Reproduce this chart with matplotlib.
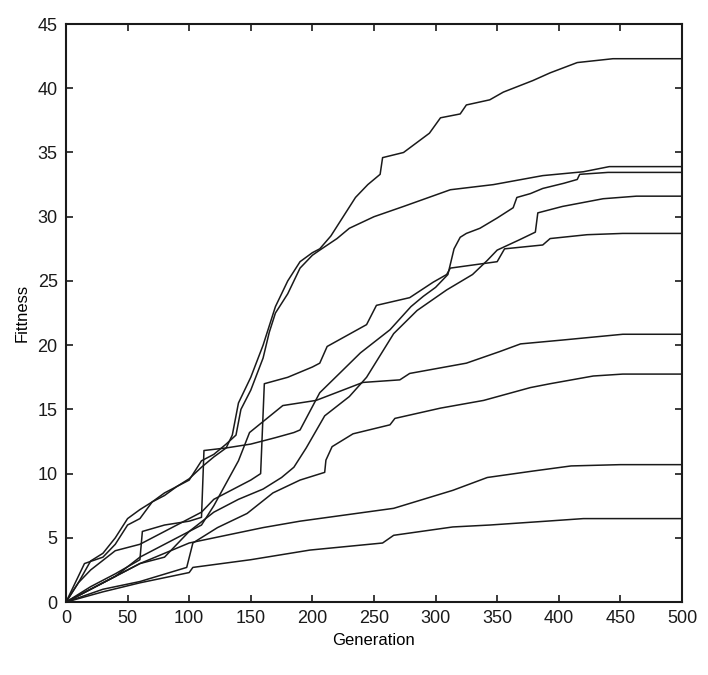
import matplotlib
matplotlib.use("Agg")
import matplotlib.pyplot as plt

plt.rcParams['font.family'] = ['Liberation Sans', 'DejaVu Sans']

# Generation / fitness readings for each run
gen_a = [0, 5, 10, 15, 30, 40, 50, 60, 70, 80, 90, 100, 110, 120, 130, 135, 140, 150, 160, 170, 180, 190, 200, 206, 215, 225, 235, 245, 255, 257, 274, 295, 304, 320, 325, 344, 355, 379, 393, 415, 444, 500]
fit_a = [0, 1.0, 2.0, 3.0, 3.5, 4.5, 6.0, 6.5, 7.8, 8.3, 9.0, 9.6, 10.5, 11.3, 12.0, 13.0, 15.5, 17.5, 20.0, 23.0, 25.0, 26.5, 27.2, 27.5, 28.5, 30.0, 31.5, 32.5, 33.3, 34.6, 35.0, 36.5, 37.7, 38.0, 38.7, 39.1, 39.7, 40.6, 41.2, 42.0, 42.3, 42.3]

gen_b = [0, 10, 20, 30, 40, 50, 60, 70, 80, 100, 110, 120, 130, 138, 142, 150, 160, 165, 170, 180, 190, 200, 206, 220, 230, 250, 274, 312, 347, 387, 420, 441, 500]
fit_b = [0, 1.5, 3.2, 3.8, 5.0, 6.5, 7.2, 7.8, 8.5, 9.5, 11.0, 11.5, 12.3, 13.0, 15.0, 16.5, 19.0, 21.0, 22.5, 24.0, 26.0, 27.0, 27.4, 28.3, 29.1, 30.0, 30.8, 32.1, 32.5, 33.2, 33.5, 33.9, 33.9]

gen_c = [0, 20, 40, 60, 62, 80, 100, 110, 112, 130, 150, 170, 185, 190, 206, 222, 239, 263, 280, 290, 300, 310, 315, 320, 325, 336, 350, 363, 366, 377, 387, 404, 415, 417, 440, 500]
fit_c = [0, 1.2, 2.2, 3.3, 5.5, 6.0, 6.3, 6.6, 11.8, 12.0, 12.3, 12.8, 13.2, 13.4, 16.3, 17.8, 19.4, 21.2, 23.0, 23.8, 24.5, 25.5, 27.5, 28.4, 28.7, 29.1, 29.9, 30.7, 31.5, 31.8, 32.2, 32.6, 32.9, 33.3, 33.45, 33.45]

gen_d = [0, 20, 40, 60, 80, 100, 120, 140, 160, 175, 185, 195, 210, 230, 244, 266, 285, 309, 330, 342, 350, 368, 381, 383, 403, 436, 463, 500]
fit_d = [0, 1.0, 2.0, 3.0, 3.5, 5.5, 7.0, 8.0, 8.8, 9.7, 10.5, 12.0, 14.5, 16.0, 17.5, 20.9, 22.7, 24.3, 25.5, 26.6, 27.4, 28.2, 28.8, 30.3, 30.8, 31.4, 31.6, 31.6]

gen_e = [0, 10, 20, 40, 60, 80, 100, 110, 120, 140, 150, 158, 161, 180, 200, 206, 212, 244, 252, 279, 298, 309, 312, 350, 356, 387, 393, 423, 452, 500]
fit_e = [0, 1.5, 2.5, 4.0, 4.5, 5.5, 6.5, 7.0, 8.0, 9.0, 9.5, 10.0, 17.0, 17.5, 18.3, 18.6, 19.9, 21.6, 23.1, 23.7, 24.9, 25.5, 26.0, 26.5, 27.5, 27.8, 28.3, 28.6, 28.7, 28.7]

gen_f = [0, 20, 40, 60, 80, 100, 110, 120, 140, 149, 176, 203, 241, 271, 279, 325, 352, 369, 403, 452, 500]
fit_f = [0, 1.0, 2.0, 3.5, 4.5, 5.5, 6.0, 7.5, 11.0, 13.2, 15.3, 15.7, 17.1, 17.3, 17.8, 18.6, 19.5, 20.1, 20.4, 20.85, 20.85]

gen_g = [0, 30, 60, 98, 103, 123, 147, 168, 190, 210, 211, 216, 233, 263, 267, 304, 339, 377, 393, 428, 452, 500]
fit_g = [0, 1.0, 1.6, 2.7, 4.6, 5.8, 6.9, 8.5, 9.5, 10.1, 11.05, 12.1, 13.1, 13.8, 14.3, 15.1, 15.7, 16.7, 17.0, 17.6, 17.75, 17.75]

gen_h = [0, 30, 60, 80, 100, 130, 160, 190, 266, 314, 342, 379, 410, 450, 500]
fit_h = [0, 1.5, 3.0, 3.8, 4.6, 5.2, 5.8, 6.3, 7.3, 8.7, 9.7, 10.2, 10.6, 10.7, 10.7]

gen_i = [0, 30, 60, 100, 103, 150, 198, 257, 266, 314, 344, 390, 420, 500]
fit_i = [0, 0.8, 1.5, 2.3, 2.7, 3.3, 4.05, 4.6, 5.2, 5.85, 6.0, 6.3, 6.5, 6.5]

runs = [(gen_a, fit_a), (gen_b, fit_b), (gen_c, fit_c), (gen_d, fit_d), (gen_e, fit_e),
        (gen_f, fit_f), (gen_g, fit_g), (gen_h, fit_h), (gen_i, fit_i)]

x_ticks = [0, 50, 100, 150, 200, 250, 300, 350, 400, 450, 500]
y_ticks = [0, 5, 10, 15, 20, 25, 30, 35, 40, 45]

fig = plt.figure(figsize=(7.08, 6.75), dpi=100)
ax = fig.add_axes([0.0932, 0.108, 0.870, 0.8564])

for g, f in runs:
    ax.plot(g, f, color='#1a1a1a', linewidth=1.1)

ax.set_xlim(0, 500)
ax.set_ylim(0, 45)
ax.set_xticks(x_ticks)
ax.set_yticks(y_ticks)
ax.tick_params(direction='in', length=5, width=1.2, top=True, right=True,
               labelsize=13, pad=6, colors='#1a1a1a')
for s in ax.spines.values():
    s.set_linewidth(1.5)
    s.set_color('#1a1a1a')
ax.set_xlabel('Generation', fontsize=12, labelpad=4)
ax.set_ylabel('Fittness', fontsize=12, labelpad=6)

fig.savefig('out.png', dpi=100)
